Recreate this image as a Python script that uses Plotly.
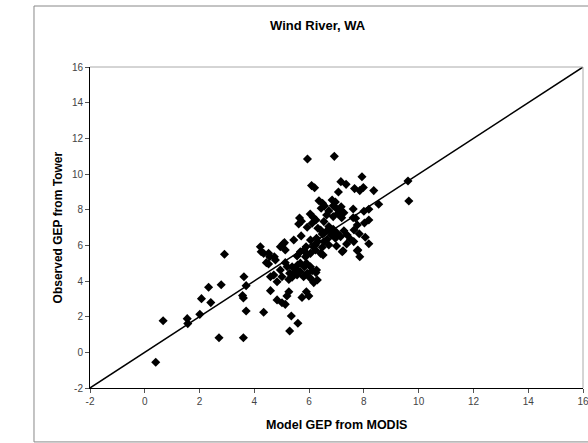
import plotly.graph_objects as go

title_text = "Wind River, WA"
x_title = "Model GEP from MODIS"
y_title = "Observed GEP from Tower"

model_gep = [
    0.40, 0.67, 1.55, 1.57, 2.01, 2.07, 2.41, 2.33, 2.79, 2.91, 2.71, 3.60, 3.62, 3.70, 3.57, 3.60, 3.70,
    4.34, 4.59, 4.83, 5.01, 5.13, 5.19, 5.26, 5.74, 5.90, 5.99, 6.17, 5.35, 5.59, 5.29,
    5.93, 6.11, 6.27, 6.05, 6.30, 4.95, 4.71, 5.01, 5.26, 4.83, 4.59, 5.29, 5.38, 5.56, 5.68, 5.80,
    5.46, 5.58, 5.20, 5.13, 5.38, 5.54, 5.68, 5.83, 5.44, 5.90, 6.05, 6.25,
    4.22, 4.25, 4.34, 4.52, 4.56, 4.44, 4.73, 4.52, 4.77,
    5.68, 5.56, 5.87, 6.05, 6.23, 6.42, 6.48, 6.15, 5.05, 5.44, 5.10, 4.95, 5.13,
    5.71, 6.05, 6.27, 6.48, 6.66, 6.51, 6.23, 5.89, 5.81, 5.90, 6.72, 7.00, 7.24, 7.78, 7.85, 6.54, 6.32,
    7.21, 7.76, 7.37, 7.63,
    5.62, 5.93, 6.11, 6.32, 6.54, 6.68, 5.65, 5.72, 6.04, 6.15, 6.25,
    6.36, 6.49, 6.56, 6.44, 6.84, 6.96, 6.88, 6.97, 6.72, 6.64, 6.88, 7.05, 7.15, 7.19,
    7.61, 7.76, 8.02, 8.18, 7.64, 7.83, 8.05, 8.18,
    6.72, 6.88, 7.03, 7.15, 6.81, 6.96, 7.27, 7.39, 7.51, 6.42, 6.54,
    7.17, 7.27, 7.70, 7.61, 8.00, 8.18, 8.54,
    7.07, 7.66, 7.85, 7.98, 8.36, 7.16, 7.35, 7.93, 6.09, 6.20, 5.94, 6.92, 9.61, 9.64,
]
observed_gep = [
    -0.56, 1.77, 1.89, 1.61, 2.13, 3.01, 2.79, 3.65, 3.79, 5.50, 0.82, 0.82, 4.24, 3.74, 3.18, 3.05, 2.32,
    2.25, 3.46, 2.94, 2.78, 2.69, 3.16, 3.40, 3.08, 3.40, 3.16, 3.91, 2.04, 1.63, 1.20,
    4.43, 4.58, 4.62, 4.15, 4.06, 4.62, 4.34, 4.24, 4.09, 3.96, 4.24, 4.43, 4.21, 4.34, 4.52, 4.24,
    4.71, 4.90, 4.80, 5.03, 4.80, 4.66, 5.00, 4.80, 4.43, 5.00, 4.80, 4.47,
    5.92, 5.64, 5.55, 5.55, 5.36, 5.03, 5.36, 4.95, 5.18,
    5.64, 5.40, 5.36, 5.55, 5.74, 5.55, 5.89, 5.92, 6.08, 6.30, 6.15, 5.92, 5.74,
    6.53, 6.30, 6.40, 6.64, 6.34, 5.46, 6.02, 5.92, 5.74, 5.55, 6.02, 5.96, 5.70, 5.74, 5.36, 6.21, 6.21,
    5.64, 5.70, 6.08, 6.21,
    7.20, 7.01, 7.24, 6.96, 7.33, 6.86, 7.53, 7.35, 7.76, 7.57, 7.42,
    8.50, 8.36, 8.21, 8.08, 8.54, 8.43, 8.22, 8.11, 7.93, 7.70, 7.61, 7.78, 7.98, 7.55,
    7.55, 7.14, 7.25, 7.42, 6.86, 6.65, 6.45, 6.09,
    7.05, 6.90, 6.68, 6.49, 6.58, 6.40, 6.82, 6.58, 6.34, 6.86, 6.68,
    8.16, 7.83, 7.52, 8.04, 7.91, 8.02, 8.30,
    8.99, 9.18, 9.07, 9.24, 9.07, 9.57, 9.42, 9.85, 9.35, 9.23, 10.84, 10.99, 9.61, 8.49,
]

one_to_one = [-2, 16]
tick_vals = [-2, 0, 2, 4, 6, 8, 10, 12, 14, 16]
tick_text = ["-2", "0", "2", "4", "6", "8", "10", "12", "14", "16"]

FONT = "Liberation Sans, Arial, sans-serif"

fig = go.Figure()
fig.add_trace(go.Scatter(
    x=one_to_one, y=one_to_one, mode="lines",
    line=dict(color="black", width=1.5), hoverinfo="skip", showlegend=False,
))
fig.add_trace(go.Scatter(
    x=model_gep, y=observed_gep, mode="markers",
    marker=dict(symbol="diamond", size=7, color="black", line=dict(width=0)),
    showlegend=False,
))

axis_common = dict(
    range=[-2, 16], tickmode="array", tickvals=tick_vals, ticktext=tick_text,
    showgrid=False, zeroline=False, showline=True, linecolor="black", linewidth=1,
    ticks="outside", ticklen=4, tickcolor="#555", tickwidth=1,
    tickfont=dict(family=FONT, size=10, color="#444"),
    ticklabeloverflow="allow", automargin=False,
)

fig.update_layout(
    width=588, height=443,
    margin=dict(l=90, r=5, t=67, b=55),
    paper_bgcolor="white", plot_bgcolor="white",
    xaxis=dict(**axis_common),
    yaxis=dict(**axis_common),
    shapes=[
        # outer chart frame
        dict(type="rect", xref="paper", yref="paper", x0=-0.1136, x1=1.05, y0=-0.168, y1=1.19,
             line=dict(color="#888", width=1), fillcolor="rgba(0,0,0,0)", layer="below"),
        # plot-area top and right borders
        dict(type="line", xref="paper", yref="paper", x0=0, x1=1, y0=1, y1=1,
             line=dict(color="#aaa", width=1)),
        dict(type="line", xref="paper", yref="paper", x0=1, x1=1, y0=0, y1=1,
             line=dict(color="#aaa", width=1)),
    ],
    annotations=[
        dict(text="<b>" + title_text + "</b>", xref="paper", yref="paper",
             x=0.4625, y=1.13, xanchor="center", yanchor="middle", showarrow=False,
             font=dict(family=FONT, size=13, color="black")),
        dict(text="<b>" + x_title + "</b>", xref="paper", yref="paper",
             x=0.5, y=-0.115, xanchor="center", yanchor="middle", showarrow=False,
             font=dict(family=FONT, size=12.5, color="black")),
        dict(text="<b>" + y_title + "</b>", xref="paper", yref="paper",
             x=-0.065, y=0.5, xanchor="center", yanchor="middle", showarrow=False,
             textangle=-90, font=dict(family=FONT, size=12, color="black")),
    ],
)

fig.write_html("out.html")
